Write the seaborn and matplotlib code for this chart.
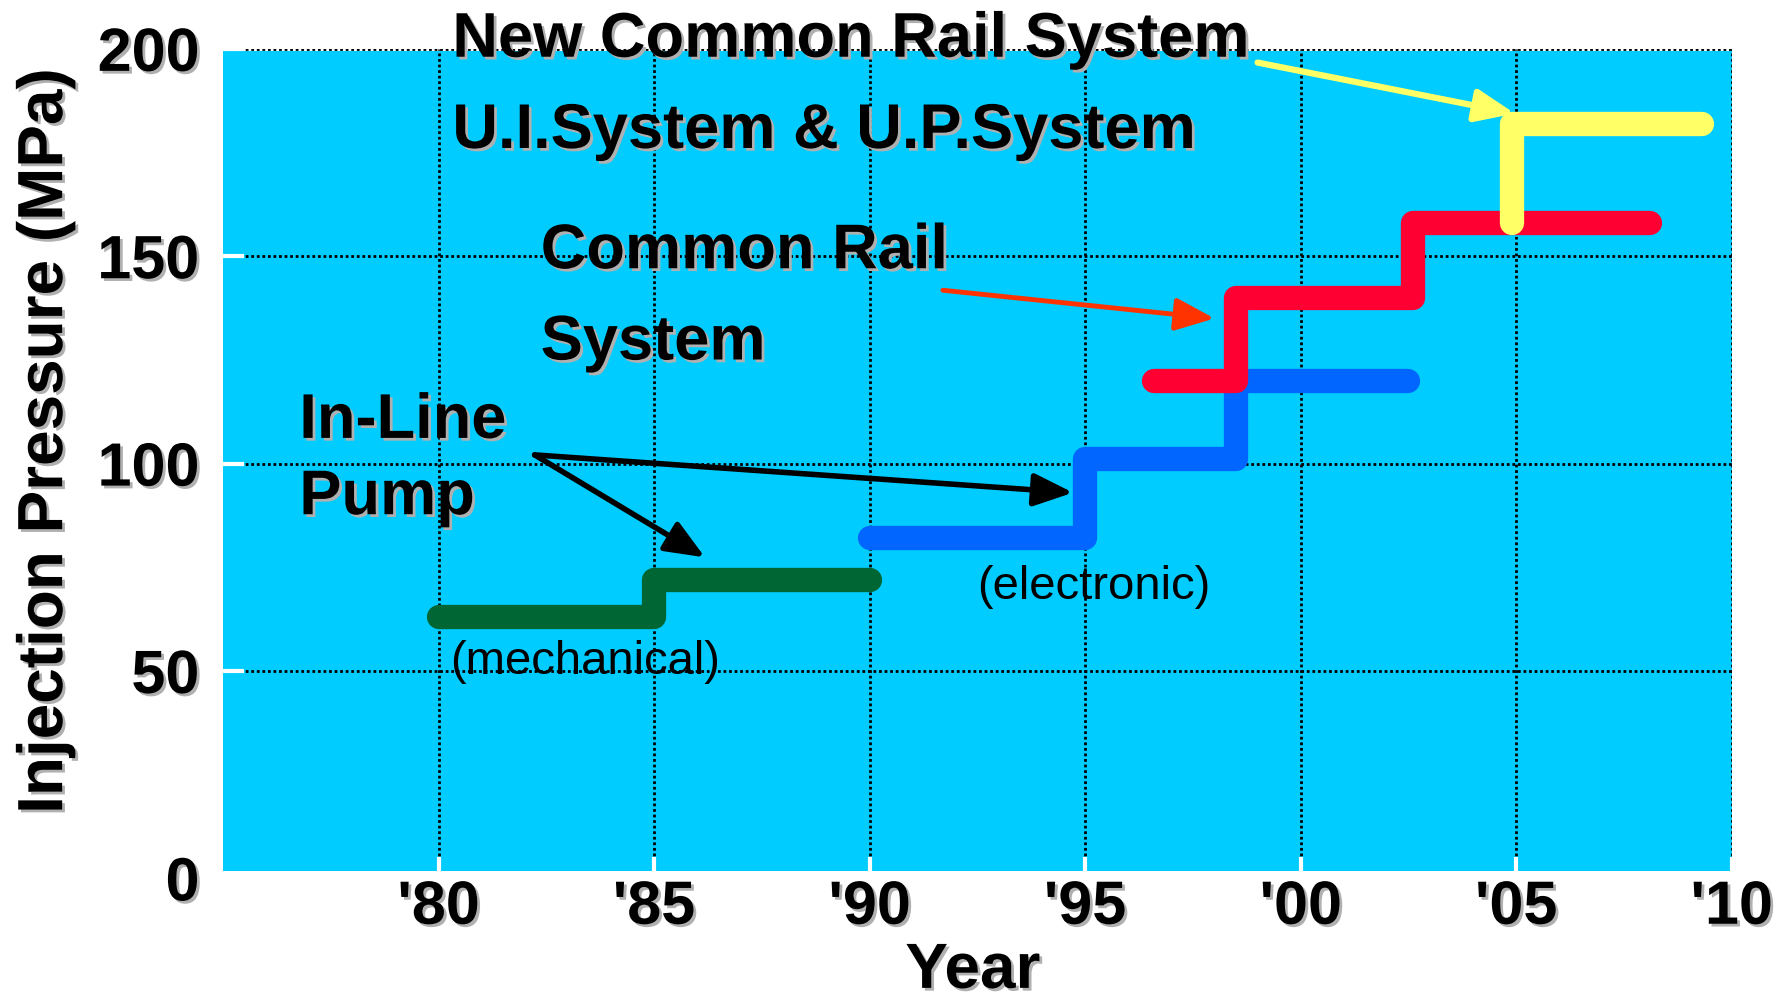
import matplotlib
matplotlib.use("Agg")
import matplotlib.pyplot as plt
import matplotlib.patheffects as pe
import seaborn as sns

# Injection pressure (MPa) step breakpoints by year
inline_mech_years = [1980, 1985, 1990]
inline_mech_mpa = [63, 72, 72]
inline_elec_years = [1990, 1995, 1998.5, 2002.5]
inline_elec_mpa = [82, 101, 120, 120]
common_rail_years = [1996.6, 1998.5, 2002.6, 2008.1]
common_rail_mpa = [120, 140, 158, 158]
new_cr_years = [2004.9, 2009.3]
new_cr_mpa = [158, 182]

year_ticks = [1980, 1985, 1990, 1995, 2000, 2005, 2010]
year_labels = ["'80", "'85", "'90", "'95", "'00", "'05", "'10"]
pressure_ticks = [0, 50, 100, 150, 200]

BG = "#00CCFF"
GREEN = "#006633"
BLUE = "#0066FF"
RED = "#FF0033"
YELLOW = "#FFFF66"
ARROW_RED = "#FF3300"

sns.set_style("white")
plt.rcParams["font.family"] = ["Liberation Sans", "DejaVu Sans"]
plt.rcParams["text.color"] = "black"
plt.rcParams["axes.labelcolor"] = "black"
plt.rcParams["xtick.labelcolor"] = "black"
plt.rcParams["ytick.labelcolor"] = "black"

shadow = [pe.withSimplePatchShadow(offset=(2, -2), shadow_rgbFace="#b0b0b0", alpha=1.0)]

fig = plt.figure(figsize=(17.84, 10.01), dpi=100)
ax = fig.add_axes([0.125, 0.1225, 0.8457, 0.8287])
ax.set_facecolor("white")
ax.set_xlim(1975, 2010)
ax.set_ylim(0, 200)
for s in ax.spines.values():
    s.set_visible(False)

# plot area backdrop stops just short of the zero line
ax.axhspan(1.7, 199.5, color=BG, zorder=0, linewidth=0)

ax.set_axisbelow(True)
ax.grid(True, color="black", linestyle=(0, (1, 1)), linewidth=2.0)

# step lines: the first three rise at each breakpoint, the newest rises first
series = [
    (inline_mech_years, inline_mech_mpa, GREEN, 3, "steps-post"),
    (inline_elec_years, inline_elec_mpa, BLUE, 4, "steps-post"),
    (common_rail_years, common_rail_mpa, RED, 5, "steps-post"),
    (new_cr_years, new_cr_mpa, YELLOW, 6, "steps-pre"),
]
for xs, ys, col, z, ds in series:
    sns.lineplot(x=xs, y=ys, ax=ax, color=col, linewidth=17.5, drawstyle=ds,
                 estimator=None, sort=False, solid_capstyle="round",
                 solid_joinstyle="round", zorder=z)

ax.set_xticks(year_ticks, year_labels)
ax.set_yticks(pressure_ticks)
ax.tick_params(axis="both", direction="in", color="white", length=15, width=3,
               labelsize=44, bottom=True, left=True, labelcolor="black")
ax.tick_params(axis="x", pad=1)
ax.tick_params(axis="y", pad=17)
for lbl in ax.get_xticklabels() + ax.get_yticklabels():
    lbl.set_fontweight("bold")
    lbl.set_path_effects(shadow)
# no grid line along the zero baseline
ax.get_ygridlines()[0].set_visible(False)

ax.set_xlabel("Year", fontsize=46, fontweight="bold", va="baseline", path_effects=shadow)
ax.xaxis.set_label_coords(0.497, -0.132)
ax.set_ylabel("Injection Pressure (MPa)", fontsize=46, fontweight="bold", path_effects=shadow)
ax.yaxis.set_label_coords(-0.098, 0.527)

big = dict(fontsize=45.5, fontweight="bold", color="black", ha="left", va="baseline",
           path_effects=shadow, zorder=8)
ax.text(1980.32, 198.1, "New Common Rail System", clip_on=False, **big)
ax.text(1980.32, 176.1, "U.I.System & U.P.System", **big)
ax.text(1982.37, 147.1, "Common Rail", **big)
ax.text(1982.37, 125.1, "System", **big)
ax.text(1976.77, 106.2, "In-Line", **big)
ax.text(1976.77, 87.8, "Pump", **big)

small = dict(fontsize=34, color="black", ha="left", va="center", zorder=8)
ax.text(1980.26, 52.1, "(mechanical)", **small)
ax.text(1992.49, 70.2, "(electronic)", **small)

def arrow(tail, head, color, lw):
    ax.annotate("", xy=head, xytext=tail, zorder=9,
                arrowprops=dict(arrowstyle="-|>,head_length=1.2,head_width=0.5",
                                color=color, lw=lw, mutation_scale=20,
                                shrinkA=0, shrinkB=0))

arrow((1999.0, 196.7), (2004.97, 184.4), YELLOW, 4.5)
arrow((1991.7, 141.8), (1998.0, 135.0), ARROW_RED, 3.5)
arrow((1982.23, 102.1), (1994.72, 93.0), "black", 4)
arrow((1982.23, 102.1), (1986.18, 77.4), "black", 4)

fig.savefig("out.png", dpi=100)
